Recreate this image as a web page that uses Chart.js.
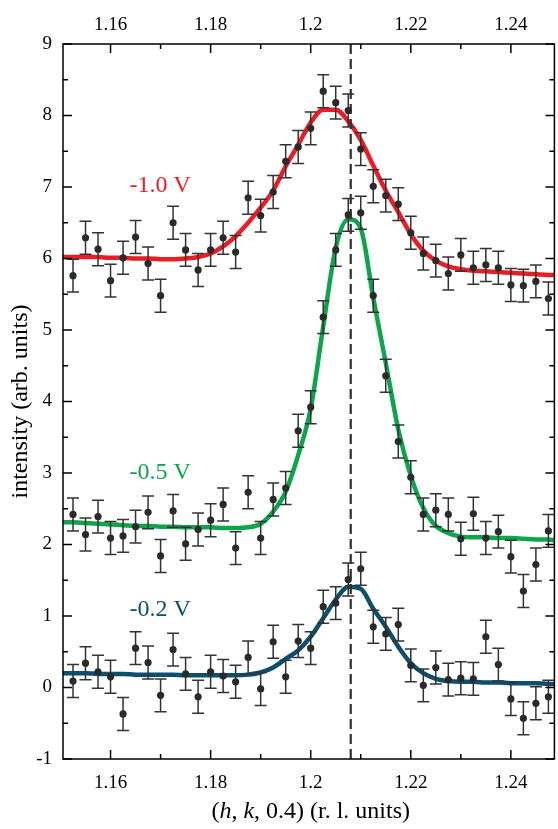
<!DOCTYPE html>
<html>
<head>
<meta charset="utf-8">
<script src="https://cdn.jsdelivr.net/npm/chart.js@4/dist/chart.umd.min.js"></script>
<style>
  html, body { margin: 0; padding: 0; background: #fff; }
  #wrap { width: 558px; height: 829px; }
</style>
</head>
<body>
<div id="wrap"><canvas id="chart" width="558" height="829"></canvas></div>
<script>
// (h, k, 0.4) positions of the measured points
const hkl = [1.1525, 1.155, 1.1575, 1.16, 1.1625, 1.165, 1.1675, 1.17, 1.1725, 1.175,
             1.1775, 1.18, 1.1825, 1.185, 1.1875, 1.19, 1.1925, 1.195, 1.1975, 1.2,
             1.2025, 1.205, 1.2075, 1.21, 1.2125, 1.215, 1.2175, 1.22, 1.2225, 1.225,
             1.2275, 1.23, 1.2325, 1.235, 1.2375, 1.24, 1.2425, 1.245, 1.2475];

// measured intensities (offset per potential)
const intMinus10 = [5.76, 6.29, 6.13, 5.69, 6.01, 6.30, 5.93, 5.48, 6.50, 6.12,
                    5.84, 6.12, 6.29, 6.09, 6.85, 6.60, 6.93, 7.36, 7.56, 7.82,
                    8.34, 8.18, 8.07, 7.53, 7.01, 6.88, 6.76, 6.36, 6.07, 5.97,
                    5.79, 6.05, 5.87, 5.91, 5.87, 5.63, 5.62, 5.68, 5.44];
const intMinus05 = [2.42, 2.14, 2.39, 2.09, 2.12, 2.25, 2.45, 1.84, 2.47, 2.01,
                    2.21, 2.34, 2.56, 1.95, 2.73, 2.09, 2.63, 2.79, 3.59, 3.92,
                    5.18, 6.12, 6.61, 6.64, 5.48, 4.36, 3.44, 2.94, 2.42, 2.48,
                    2.42, 2.08, 2.43, 2.09, 2.18, 1.83, 1.35, 1.72, 2.19];
const intMinus02 = [0.09, 0.34, 0.22, 0.15, -0.37, 0.55, 0.35, -0.11, 0.53, 0.19,
                    -0.13, 0.22, 0.16, 0.08, 0.42, -0.02, 0.64, 0.15, 0.65, 0.55,
                    1.13, 1.18, 1.51, 1.66, 0.85, 0.75, 0.88, 0.31, 0.03, 0.28,
                    0.11, 0.13, 0.12, 0.71, 0.32, -0.16, -0.43, -0.22, -0.13];
const intError = 0.23;

// fitted peak profiles
const fitX = [1.1505, 1.1525, 1.155, 1.1575, 1.16, 1.1625, 1.165, 1.1675, 1.17, 1.1725,
              1.175, 1.1775, 1.18, 1.1825, 1.185, 1.1875, 1.19, 1.1925, 1.195, 1.1975,
              1.2, 1.2025, 1.205, 1.2075, 1.21, 1.2125, 1.215, 1.2175, 1.22, 1.2225,
              1.225, 1.2275, 1.23, 1.2325, 1.235, 1.2375, 1.24, 1.2425, 1.245, 1.2475, 1.2487];
const fitMinus10 = [6.02, 6.02, 6.02, 6.02, 6.01, 6.01, 6.00, 6.00, 5.99, 5.99,
                    6.00, 6.02, 6.07, 6.17, 6.31, 6.50, 6.71, 6.95, 7.29, 7.59,
                    7.90, 8.08, 8.08, 7.92, 7.66, 7.30, 6.95, 6.65, 6.34, 6.11,
                    5.97, 5.89, 5.85, 5.83, 5.82, 5.81, 5.80, 5.79, 5.78, 5.77, 5.77];
const fitMinus05 = [2.31, 2.31, 2.30, 2.29, 2.28, 2.27, 2.26, 2.26, 2.25, 2.25,
                    2.24, 2.24, 2.24, 2.23, 2.23, 2.24, 2.29, 2.46, 2.74, 3.25,
                    3.90, 5.05, 6.15, 6.55, 6.42, 5.45, 4.54, 3.61, 2.96, 2.51,
                    2.26, 2.16, 2.11, 2.10, 2.10, 2.09, 2.09, 2.08, 2.07, 2.07, 2.06];
const fitMinus02 = [0.20, 0.20, 0.20, 0.19, 0.19, 0.19, 0.18, 0.18, 0.18, 0.18,
                    0.17, 0.17, 0.17, 0.17, 0.17, 0.18, 0.21, 0.28, 0.40, 0.52,
                    0.71, 0.97, 1.23, 1.41, 1.38, 1.10, 0.85, 0.57, 0.34, 0.20,
                    0.12, 0.09, 0.08, 0.08, 0.07, 0.07, 0.06, 0.06, 0.06, 0.05, 0.05];

// axes
const xRange = [1.1505, 1.2487];
const yRange = [-1, 9];
const xTicks = [1.16, 1.18, 1.2, 1.22, 1.24];
const xMinorTicks = [1.17, 1.19, 1.21, 1.23];
const yTicks = [-1, 0, 1, 2, 3, 4, 5, 6, 7, 8, 9];
const yMinorTicks = [-0.5, 0.5, 1.5, 2.5, 3.5, 4.5, 5.5, 6.5, 7.5, 8.5];
const bulkPosition = 1.208;

// series labels
const seriesNames = ['-1.0 V', '-0.5 V', '-0.2 V'];
const seriesColors = ['#ec1c24', '#0ba64c', '#0b4f6d'];
const labelAnchors = [{ x: 1.1638, y: 6.93 }, { x: 1.1638, y: 2.92 }, { x: 1.1638, y: 1.0 }];

const FONT = "'Liberation Serif', 'Times New Roman', serif";

const pts = (xs, ys) => xs.map((x, i) => ({ x, y: ys[i] }));

function scatterSet(values) {
  return {
    type: 'scatter',
    data: pts(hkl, values),
    errorBar: intError,
    pointRadius: 3.6,
    pointHoverRadius: 3.6,
    pointBackgroundColor: '#2a2a2a',
    pointBorderWidth: 0,
    showLine: false,
    order: 0
  };
}
function fitSet(values, color) {
  return {
    type: 'line',
    data: pts(fitX, values),
    borderColor: color,
    borderWidth: 4.5,
    pointRadius: 0,
    cubicInterpolationMode: 'monotone',
    fill: false,
    order: 2
  };
}

// vertical error bars, drawn just before each point set
const errorBars = {
  id: 'errorBars',
  beforeDatasetDraw(chart, args) {
    const ds = chart.data.datasets[args.index];
    if (!ds.errorBar) return;
    const xs = chart.scales.x, ys = chart.scales.y, ctx = chart.ctx;
    ctx.save();
    ctx.strokeStyle = '#333';
    ctx.lineWidth = 1.5;
    ds.data.forEach(p => {
      const px = xs.getPixelForValue(p.x);
      const t = ys.getPixelForValue(p.y + ds.errorBar);
      const b = ys.getPixelForValue(p.y - ds.errorBar);
      ctx.beginPath();
      ctx.moveTo(px, t); ctx.lineTo(px, b);
      ctx.moveTo(px - 6, t); ctx.lineTo(px + 6, t);
      ctx.moveTo(px - 6, b); ctx.lineTo(px + 6, b);
      ctx.stroke();
    });
    ctx.restore();
  }
};

// closed frame with inward major/minor ticks on all four sides
const frame = {
  id: 'frame',
  afterDraw(chart) {
    const { ctx, chartArea: a } = chart;
    const xs = chart.scales.x, ys = chart.scales.y;
    ctx.save();
    ctx.strokeStyle = '#000';
    ctx.lineWidth = 1.5;
    ctx.strokeRect(a.left, a.top, a.right - a.left, a.bottom - a.top);
    ctx.beginPath();
    const xMark = (v, len) => {
      const px = xs.getPixelForValue(v);
      ctx.moveTo(px, a.bottom); ctx.lineTo(px, a.bottom - len);
      ctx.moveTo(px, a.top); ctx.lineTo(px, a.top + len);
    };
    const yMark = (v, len) => {
      const py = ys.getPixelForValue(v);
      ctx.moveTo(a.left, py); ctx.lineTo(a.left + len, py);
      ctx.moveTo(a.right, py); ctx.lineTo(a.right - len, py);
    };
    xTicks.forEach(v => xMark(v, 9));
    xMinorTicks.forEach(v => xMark(v, 5));
    yTicks.forEach(v => yMark(v, 9));
    yMinorTicks.forEach(v => yMark(v, 5));
    ctx.stroke();
    ctx.restore();
  }
};

// series labels and axis titles
const texts = {
  id: 'texts',
  afterDraw(chart) {
    const { ctx, chartArea: a } = chart;
    const xs = chart.scales.x, ys = chart.scales.y;
    ctx.save();
    ctx.textBaseline = 'alphabetic';
    ctx.font = `24px ${FONT}`;
    ctx.textAlign = 'left';
    seriesNames.forEach((name, i) => {
      ctx.fillStyle = seriesColors[i];
      ctx.fillText(name, xs.getPixelForValue(labelAnchors[i].x), ys.getPixelForValue(labelAnchors[i].y));
    });

    // x-axis title with italic h and k
    ctx.fillStyle = '#000';
    const parts = [['(', false], ['h', true], [', ', false], ['k', true], [', 0.4) (r. l. units)', false]];
    const fontFor = it => `${it ? 'italic ' : ''}24px ${FONT}`;
    let total = 0;
    parts.forEach(([s, it]) => { ctx.font = fontFor(it); total += ctx.measureText(s).width; });
    let x = (a.left + a.right) / 2 + 2 - total / 2;
    parts.forEach(([s, it]) => {
      ctx.font = fontFor(it);
      ctx.fillText(s, x, 818);
      x += ctx.measureText(s).width;
    });

    // y-axis title
    ctx.font = `24px ${FONT}`;
    ctx.textAlign = 'center';
    ctx.translate(27, (a.top + a.bottom) / 2);
    ctx.rotate(-Math.PI / 2);
    ctx.fillText('intensity (arb. units)', 0, 0);
    ctx.restore();
  }
};

const tickFont = { family: FONT, size: 19 };

new Chart(document.getElementById('chart'), {
  data: {
    datasets: [
      scatterSet(intMinus10),
      scatterSet(intMinus05),
      scatterSet(intMinus02),
      {
        type: 'line',
        data: [{ x: bulkPosition, y: yRange[0] }, { x: bulkPosition, y: yRange[1] }],
        borderColor: '#2e2e2e',
        borderWidth: 2.2,
        borderDash: [10, 5],
        pointRadius: 0,
        tension: 0,
        order: 1
      },
      fitSet(fitMinus10, seriesColors[0]),
      fitSet(fitMinus05, seriesColors[1]),
      fitSet(fitMinus02, seriesColors[2])
    ]
  },
  options: {
    responsive: false,
    animation: false,
    devicePixelRatio: 1,
    layout: { padding: { left: 0, right: 1, top: 0, bottom: 0 } },
    plugins: { legend: { display: false }, tooltip: { enabled: false } },
    scales: {
      x: {
        type: 'linear', position: 'bottom',
        min: xRange[0], max: xRange[1],
        afterBuildTicks: s => { s.ticks = xTicks.map(v => ({ value: v })); },
        afterFit: s => { s.height = 70; },
        grid: { display: false, drawTicks: false },
        border: { display: false },
        ticks: { font: tickFont, color: '#000', padding: 13, maxRotation: 0, callback: v => String(v) }
      },
      x2: {
        type: 'linear', position: 'top',
        min: xRange[0], max: xRange[1],
        afterBuildTicks: s => { s.ticks = xTicks.map(v => ({ value: v })); },
        afterFit: s => { s.height = 44; },
        grid: { display: false, drawTicks: false },
        border: { display: false },
        ticks: { font: tickFont, color: '#000', padding: 8, maxRotation: 0, callback: v => String(v) }
      },
      y: {
        type: 'linear', position: 'left',
        min: yRange[0], max: yRange[1],
        afterBuildTicks: s => { s.ticks = yTicks.map(v => ({ value: v })); },
        afterFit: s => { s.width = 63; },
        grid: { display: false, drawTicks: false },
        border: { display: false },
        ticks: { font: tickFont, color: '#000', padding: 11, callback: v => String(v) }
      }
    }
  },
  plugins: [errorBars, frame, texts]
});
</script>
</body>
</html>
